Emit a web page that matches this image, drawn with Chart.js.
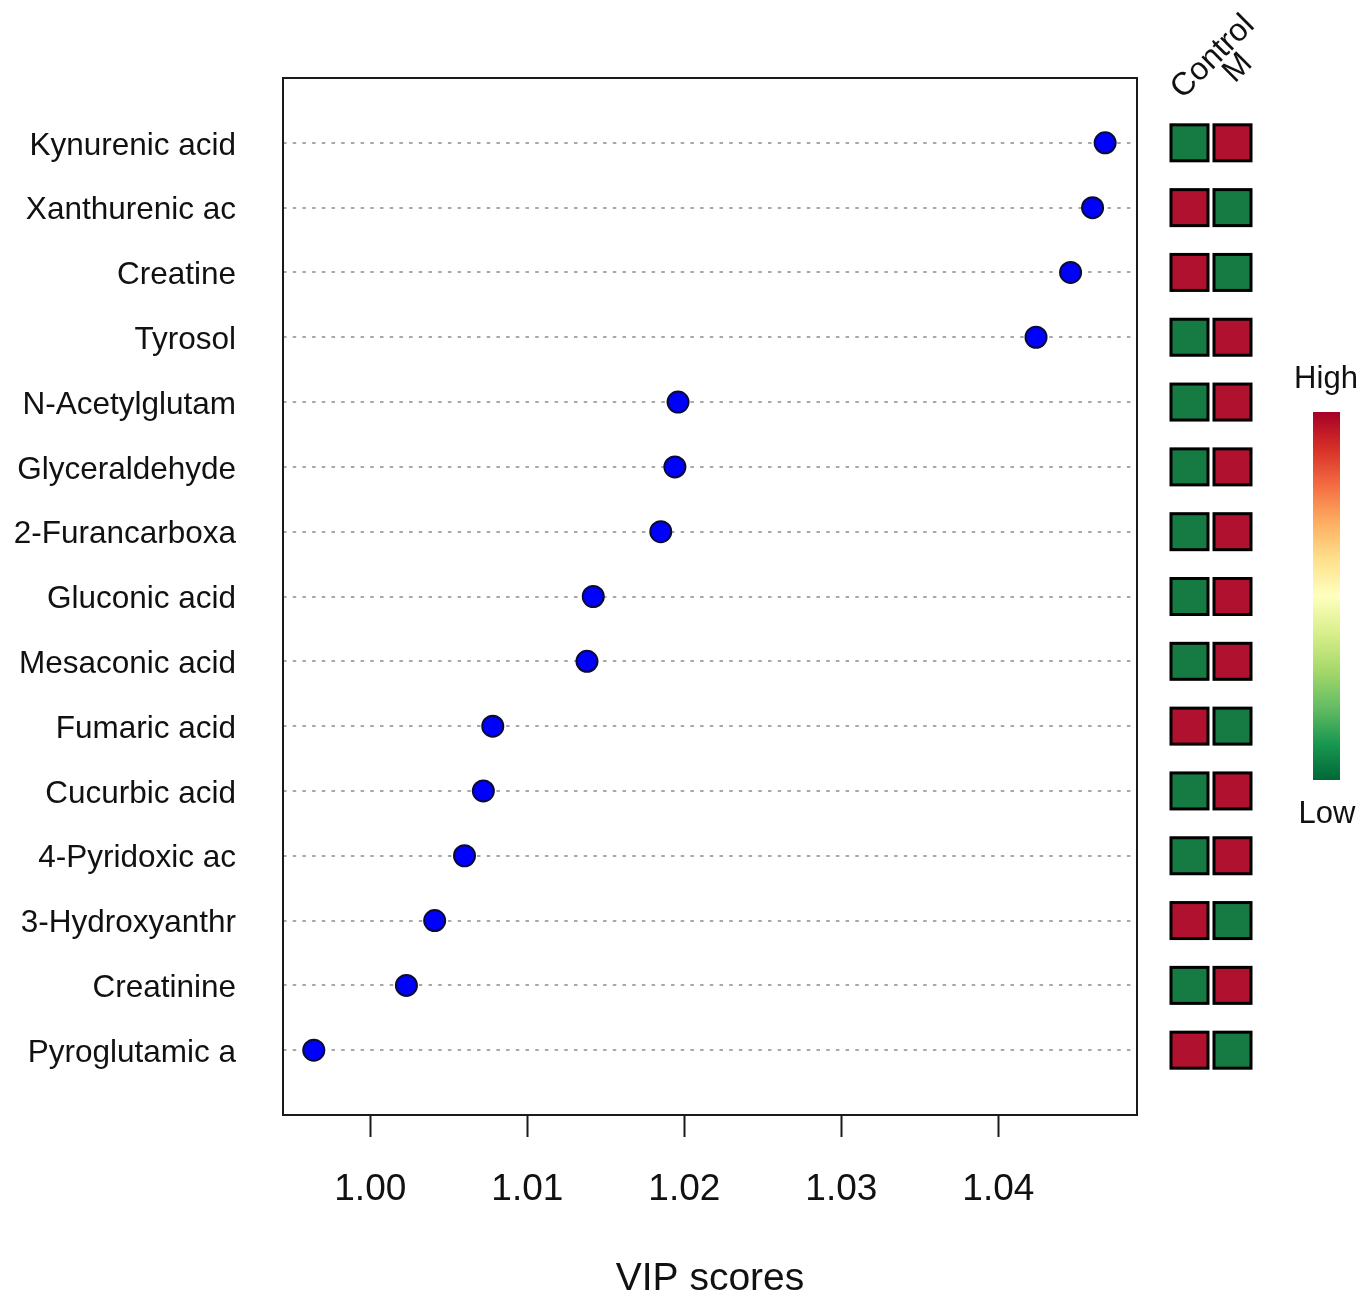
<!DOCTYPE html>
<html>
<head>
<meta charset="utf-8">
<script src="https://cdn.jsdelivr.net/npm/chart.js@4.4.1/dist/chart.umd.min.js"></script>
<style>
  html, body { margin: 0; padding: 0; background: #fff; }
  #wrap { width: 1365px; height: 1307px; position: relative; }
</style>
</head>
<body>
<div id="wrap"><canvas id="vip"></canvas></div>
<script>
// metabolites, top to bottom
const names = [
  'Kynurenic acid', 'Xanthurenic ac', 'Creatine', 'Tyrosol', 'N-Acetylglutam',
  'Glyceraldehyde', '2-Furancarboxa', 'Gluconic acid', 'Mesaconic acid', 'Fumaric acid',
  'Cucurbic acid', '4-Pyridoxic ac', '3-Hydroxyanthr', 'Creatinine', 'Pyroglutamic a'
];
const vipScores = [
  1.0468, 1.0460, 1.0446, 1.0424, 1.0196,
  1.0194, 1.0185, 1.0142, 1.0138, 1.0078,
  1.0072, 1.0060, 1.0041, 1.0023, 0.9964
];
// 1 = high, 0 = low
const controlLevel = [0, 1, 1, 0, 0, 0, 0, 0, 0, 1, 0, 0, 1, 0, 1];
const mLevel       = [1, 0, 0, 1, 1, 1, 1, 1, 1, 0, 1, 1, 0, 1, 0];
const groups = ['Control', 'M'];
const xTicks = [1.00, 1.01, 1.02, 1.03, 1.04];

const FONT = "'Liberation Sans', Arial, sans-serif";
const LOW = '#167a43', HIGH = '#b0112f';
const rdylgn = ['#a50026', '#d73027', '#f46d43', '#fdae61', '#fee08b', '#ffffbf',
                '#d9ef8b', '#a6d96a', '#66bd63', '#1a9850', '#006837'];

const extras = {
  id: 'extras',
  beforeDatasetsDraw(chart) {
    const {ctx, chartArea: a} = chart;
    ctx.save();
    ctx.strokeStyle = '#1a1a1a';
    ctx.lineWidth = 2;
    ctx.strokeRect(a.left, a.top, a.right - a.left, a.bottom - a.top);
    ctx.restore();
  },
  afterDraw(chart) {
    const {ctx, chartArea: a} = chart;
    const y = chart.scales.y;
    ctx.save();
    // heatmap cells
    const cols = [a.right + 34, a.right + 77];
    const cw = 37, ch = 36;
    names.forEach((n, i) => {
      const py = y.getPixelForValue(i + 1);
      [controlLevel[i], mLevel[i]].forEach((lv, j) => {
        ctx.fillStyle = lv ? HIGH : LOW;
        ctx.fillRect(cols[j], py - ch / 2, cw, ch);
        ctx.strokeStyle = '#000';
        ctx.lineWidth = 3;
        ctx.strokeRect(cols[j], py - ch / 2, cw, ch);
      });
    });
    // column labels
    ctx.fillStyle = '#111';
    ctx.font = '32px ' + FONT;
    ctx.textAlign = 'center';
    ctx.textBaseline = 'middle';
    const lab = [[a.right + 76, 57], [a.right + 101, 68]];
    groups.forEach((g, j) => {
      ctx.save();
      ctx.translate(lab[j][0], lab[j][1]);
      ctx.rotate(-Math.PI / 4);
      ctx.fillText(g, 0, 0);
      ctx.restore();
    });
    // colour key
    const kx = 1313, kw = 27, kt = 412, kb = 780;
    const grad = ctx.createLinearGradient(0, kt, 0, kb);
    rdylgn.forEach((c, k) => grad.addColorStop(k / (rdylgn.length - 1), c));
    ctx.fillStyle = grad;
    ctx.fillRect(kx, kt, kw, kb - kt);
    ctx.fillStyle = '#111';
    ctx.font = '31px ' + FONT;
    ctx.fillText('High', 1326, 379);
    ctx.fillText('Low', 1327, 814);
    ctx.restore();
  }
};

new Chart(document.getElementById('vip'), {
  type: 'scatter',
  data: {
    datasets: [{
      data: vipScores.map((v, i) => ({x: v, y: i + 1})),
      backgroundColor: '#0000ff',
      borderColor: '#0b0b3a',
      borderWidth: 2,
      pointRadius: 10.5,
      pointHoverRadius: 10.5
    }]
  },
  options: {
    responsive: true,
    maintainAspectRatio: false,
    animation: false,
    layout: { padding: { top: 78, right: 228, bottom: 0, left: 0 } },
    plugins: { legend: { display: false }, tooltip: { enabled: false } },
    scales: {
      x: {
        type: 'linear',
        min: 0.99444,
        max: 1.04883,
        afterFit: s => { s.height = 192; },
        afterBuildTicks: s => { s.ticks = xTicks.map(v => ({value: v})); },
        border: { display: false },
        grid: { drawOnChartArea: false, drawTicks: true, tickLength: 22, tickColor: '#1a1a1a', tickWidth: 2 },
        ticks: {
          padding: 31,
          color: '#111',
          font: { family: FONT, size: 37 },
          callback: v => Number(v).toFixed(2)
        },
        title: {
          display: true,
          text: 'VIP scores',
          color: '#111',
          font: { family: FONT, size: 39 },
          padding: { top: 0, bottom: 4 }
        }
      },
      y: {
        type: 'linear',
        reverse: true,
        min: 0,
        max: 16,
        afterFit: s => { s.width = 283; },
        afterBuildTicks: s => { s.ticks = names.map((n, i) => ({value: i + 1})); },
        border: { display: false, dash: [3.5, 6.2] },
        grid: { color: '#a8a8a8', lineWidth: 2, drawTicks: false },
        ticks: {
          padding: 47,
          labelOffset: 3,
          color: '#111',
          font: { family: FONT, size: 31.5 },
          callback: v => names[v - 1]
        }
      }
    }
  },
  plugins: [extras]
});
</script>
</body>
</html>
